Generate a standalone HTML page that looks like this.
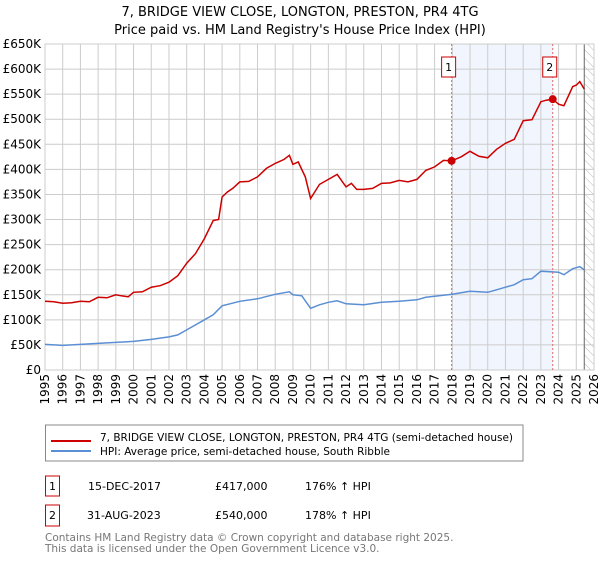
<!DOCTYPE html>
<html><head><meta charset="utf-8"><style>
body{margin:0;background:#fff;font-family:"Liberation Sans","DejaVu Sans",sans-serif;}
svg text{font-family:"DejaVu Sans","Liberation Sans",sans-serif;}
</style></head><body>
<svg id="c" width="600" height="560" viewBox="0 0 600 560" xmlns="http://www.w3.org/2000/svg">
<defs><pattern id="hatch" width="6" height="6" patternUnits="userSpaceOnUse" patternTransform="rotate(-45)"><line x1="0" y1="0" x2="0" y2="6" stroke="#bbb" stroke-width="1"/></pattern></defs>
<text x="300" y="16" text-anchor="middle" font-size="13" fill="#000">7, BRIDGE VIEW CLOSE, LONGTON, PRESTON, PR4 4TG</text>
<text x="300" y="34" text-anchor="middle" font-size="13" fill="#000">Price paid vs. HM Land Registry's House Price Index (HPI)</text>
<g id="grid"></g><g id="marks"></g><g id="axes"></g>
<rect x="45.5" y="425" width="477.5" height="36" fill="#fff" stroke="#888"/>
<line x1="51" y1="441" x2="91" y2="441" stroke="#cc0000" stroke-width="2"/>
<text x="100" y="438" font-size="10.5" dominant-baseline="middle">7, BRIDGE VIEW CLOSE, LONGTON, PRESTON, PR4 4TG (semi-detached house)</text>
<line x1="51" y1="451" x2="91" y2="451" stroke="#5b8fd4" stroke-width="2"/>
<text x="100" y="452" font-size="10.5" dominant-baseline="middle">HPI: Average price, semi-detached house, South Ribble</text>
<g>
<rect x="45.5" y="476" width="14" height="20" fill="#fff" stroke="#cc0000"/>
<text x="52.5" y="487" font-size="11" text-anchor="middle" dominant-baseline="middle">1</text>
<text x="88" y="487" font-size="11" dominant-baseline="middle">15-DEC-2017</text>
<text x="215" y="487" font-size="11" dominant-baseline="middle">£417,000</text>
<text x="305" y="487" font-size="11" dominant-baseline="middle">176% ↑ HPI</text></g>
<g>
<rect x="45.5" y="505" width="14" height="21" fill="#fff" stroke="#cc0000"/>
<text x="52.5" y="516" font-size="11" text-anchor="middle" dominant-baseline="middle">2</text>
<text x="87" y="516" font-size="11" dominant-baseline="middle">31-AUG-2023</text>
<text x="215" y="516" font-size="11" dominant-baseline="middle">£540,000</text>
<text x="305" y="516" font-size="11" dominant-baseline="middle">178% ↑ HPI</text></g>
<text x="45" y="541" font-size="10.5" fill="#777">Contains HM Land Registry data © Crown copyright and database right 2025.</text>
<text x="45" y="552" font-size="10.5" fill="#777">This data is licensed under the Open Government Licence v3.0.</text>
</svg>
<script>
const yTicks=[0,50,100,150,200,250,300,350,400,450,500,550,600,650];
const years=[1995,1996,1997,1998,1999,2000,2001,2002,2003,2004,2005,2006,2007,2008,2009,2010,2011,2012,2013,2014,2015,2016,2017,2018,2019,2020,2021,2022,2023,2024,2025,2026];
const redT=[1995,1995.5,1996,1996.5,1997,1997.5,1998,1998.5,1999,1999.3,1999.7,2000,2000.5,2001,2001.5,2002,2002.5,2003,2003.5,2004,2004.5,2004.8,2005,2005.3,2005.6,2006,2006.5,2007,2007.5,2008,2008.5,2008.8,2009,2009.3,2009.7,2010,2010.5,2011,2011.5,2011.8,2012,2012.3,2012.6,2013,2013.5,2014,2014.5,2015,2015.5,2016,2016.5,2017,2017.5,2017.96,2018.5,2019,2019.5,2020,2020.5,2021,2021.5,2022,2022.5,2023,2023.3,2023.67,2024,2024.3,2024.8,2025,2025.2,2025.45];
const redV=[137,136,133,134,137,136,145,144,150,148,146,155,156,165,168,175,188,213,232,262,298,300,345,355,362,375,376,385,402,412,420,428,410,415,385,342,370,380,390,375,365,372,360,360,362,372,373,378,375,380,398,405,418,417,425,436,426,423,440,452,460,497,499,535,538,540,530,527,565,568,575,560];
const blueT=[1995,1996,1997,1998,1999,2000,2001,2002,2002.5,2003,2004,2004.5,2005,2006,2007,2008,2008.8,2009,2009.5,2010,2010.5,2011,2011.5,2012,2013,2014,2015,2016,2016.5,2017,2018,2019,2020,2020.5,2021,2021.5,2022,2022.5,2023,2024,2024.3,2024.8,2025.2,2025.45];
const blueV=[51,49,51,53,55,57,61,66,70,80,100,110,128,137,142,151,156,150,148,123,130,135,138,132,130,135,137,140,145,147,151,157,155,160,165,170,180,182,197,195,190,202,206,200];
const sales=[[2017.96,417,'1'],[2023.67,540,'2']];
const X0=45,X1=594,Y0=370,Y1=44;
const xs=t=>X0+(t-1995)*(X1-X0)/31, ys=v=>Y0-v*(Y0-Y1)/650;
const NS='http://www.w3.org/2000/svg';
function mk(tag,attrs,parent,txt){const e=document.createElementNS(NS,tag);for(const k in attrs)e.setAttribute(k,attrs[k]);if(txt!==undefined)e.textContent=txt;parent.appendChild(e);return e;}
const g=document.getElementById('grid'),m=document.getElementById('marks'),a=document.getElementById('axes');
mk('rect',{x:xs(sales[0][0]),y:Y1,width:xs(sales[1][0])-xs(sales[0][0]),height:Y0-Y1,fill:'#eef3fc',opacity:0.8},g);
const hx=xs(2025.45);
mk('rect',{x:hx,y:Y1,width:X1-hx,height:Y0-Y1,fill:'url(#hatch)'},g);
yTicks.forEach(v=>{mk('line',{x1:X0,x2:X1,y1:ys(v),y2:ys(v),stroke:'#ccc'},g);
const t=mk('text',{x:X0-4,y:ys(v)+4,'font-size':12,'text-anchor':'end'},a,'£'+(v?v+'K':'0'));

});
years.forEach(y=>{mk('line',{x1:xs(y),x2:xs(y),y1:Y1,y2:Y0,stroke:'#ccc'},g);
const t=mk('text',{x:0,y:0,'font-size':12,'text-anchor':'end',transform:`translate(${xs(y)+4},${Y0+4}) rotate(-90)`},a,String(y));

});
mk('line',{x1:hx,x2:hx,y1:Y1,y2:Y0,stroke:'#666'},g);
mk('rect',{x:X0,y:Y1,width:X1-X0,height:Y0-Y1,fill:'none',stroke:'#ccc'},g);
const bl=mk('path',{d:blueT.map((t,i)=>(i?'L':'M')+xs(t).toFixed(1)+','+ys(blueV[i]).toFixed(1)).join(''),fill:'none',stroke:'#5b8fd4','stroke-width':1.5},m);


const rl=mk('path',{d:redT.map((t,i)=>(i?'L':'M')+xs(t).toFixed(1)+','+ys(redV[i]).toFixed(1)).join(''),fill:'none',stroke:'#cc0000','stroke-width':1.5},m);


sales.forEach(s=>{const x=xs(s[0]);
mk('line',{x1:x,x2:x,y1:Y1,y2:Y0,stroke:'#e06666','stroke-dasharray':'2,2'},m);
const c=mk('circle',{cx:x,cy:ys(s[1]),r:4,fill:'#cc0000'},m);


const b=mk('g',{},m);


mk('rect',{x:x-10,y:57,width:14,height:20,fill:'#fff',stroke:'#cc0000'},b);
mk('text',{x:x-3,y:71,'font-size':11,'text-anchor':'middle'},b,s[2]);});
</script>
</body></html>
